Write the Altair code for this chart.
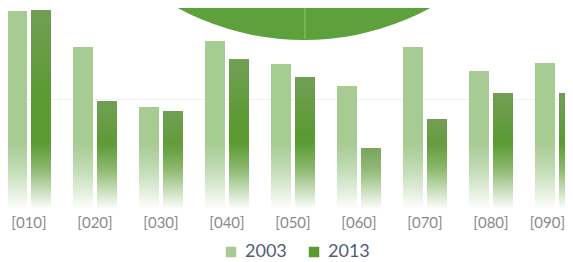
import altair as alt
import pandas as pd

categories = ["[010]", "[020]", "[030]", "[040]", "[050]", "[060]", "[070]", "[080]", "[090]"]
years = ["2003", "2013"]
values_2003 = [99.5, 81.5, 51.5, 84.5, 73, 62, 81.5, 69.5, 73.5]
values_2013 = [100, 54.5, 49.5, 75.5, 66.5, 31, 45.5, 58.5, 58.5]
year_colors = ["#a6cb93", "#5a9a31"]

rows = []
for c, v in zip(categories, values_2003):
    rows.append({"cat": c, "year": "2003", "value": v})
for c, v in zip(categories, values_2013):
    rows.append({"cat": c, "year": "2013", "value": v})
df = pd.DataFrame(rows)

FONT = "Lato"
W, H = 557, 202
last_cat = categories[-1]

x_enc = alt.X("cat:N", sort=categories, title=None,
              scale=alt.Scale(paddingInner=1/3, paddingOuter=0, range=[-1, 571]),
              axis=alt.Axis(labelFont=FONT, labelFontSize=15, labelColor="#8a8a8a",
                            labelPadding=5, ticks=False, domain=False, labelAngle=0,
                            grid=False,
                            labelAlign=alt.condition(f"datum.value == '{last_cat}'",
                                                     alt.value("right"), alt.value("center")),
                            labelOffset=alt.condition(f"datum.value == '{last_cat}'",
                                                      alt.value(8), alt.value(0))))
xo_enc = alt.XOffset("year:N", sort=years,
                     scale=alt.Scale(paddingInner=0.1667, paddingOuter=0))
y_enc = alt.Y("value:Q", title=None,
              scale=alt.Scale(domain=[0, 101], nice=False, zero=True),
              axis=alt.Axis(values=[55.5], labels=False, ticks=False, domain=False,
                            grid=True, gridColor="#f0f0f0", gridWidth=1))

circle_df = pd.DataFrame({"k": [0]})
circle = alt.Chart(circle_df).mark_circle(size=280900, color="#5ea03b", opacity=1).encode(
    x=alt.value(296), y=alt.value(-233)
)
split = alt.Chart(circle_df).mark_rule(color="#7cbd53", strokeWidth=1.5).encode(
    x=alt.value(297), y=alt.value(-10), y2=alt.value(31)
)

bars = alt.Chart(df).mark_bar().encode(
    x=x_enc,
    xOffset=xo_enc,
    y=y_enc,
    color=alt.Color("year:N", sort=years,
                    scale=alt.Scale(domain=years, range=year_colors),
                    legend=alt.Legend(title=None, orient="none", legendX=214, legendY=235,
                                      direction="horizontal", symbolType="square",
                                      symbolSize=110, symbolStrokeWidth=0,
                                      labelFont=FONT, labelFontSize=18,
                                      labelColor="#4f5d7a", labelOffset=5,
                                      columnPadding=18, padding=0)),
)

sheen = alt.Chart(df).transform_filter("datum.year == '2013'").mark_bar(
    fill=alt.Gradient(gradient="linear", x1=0, y1=0, x2=0, y2=1,
                      stops=[alt.GradientStop(color="rgba(165,168,160,0.32)", offset=0),
                             alt.GradientStop(color="rgba(165,168,160,0)", offset=0.45)])
).encode(x=alt.X("cat:N", sort=categories), xOffset=alt.XOffset("year:N", sort=years),
         y=alt.Y("value:Q"))

fade = alt.Chart(circle_df).mark_rect(
    fill=alt.Gradient(gradient="linear", x1=0, y1=0, x2=0, y2=1,
                      stops=[alt.GradientStop(color="rgba(255,255,255,0)", offset=0),
                             alt.GradientStop(color="rgba(255,255,255,0.32)", offset=0.39),
                             alt.GradientStop(color="rgba(255,255,255,0.86)", offset=0.83),
                             alt.GradientStop(color="rgba(255,255,255,1)", offset=0.95),
                             alt.GradientStop(color="rgba(255,255,255,1)", offset=1)])
).encode(x=alt.value(-2), x2=alt.value(W + 4), y=alt.value(135), y2=alt.value(205))

chart = alt.layer(circle, split, bars, sheen, fade).properties(
    width=W, height=H, autosize="none",
    padding={"left": 0, "top": 0, "right": 0, "bottom": 52},
    background="white",
).configure_view(stroke=None)

chart.save("out.html", embed_options={"renderer": "svg", "actions": False})
